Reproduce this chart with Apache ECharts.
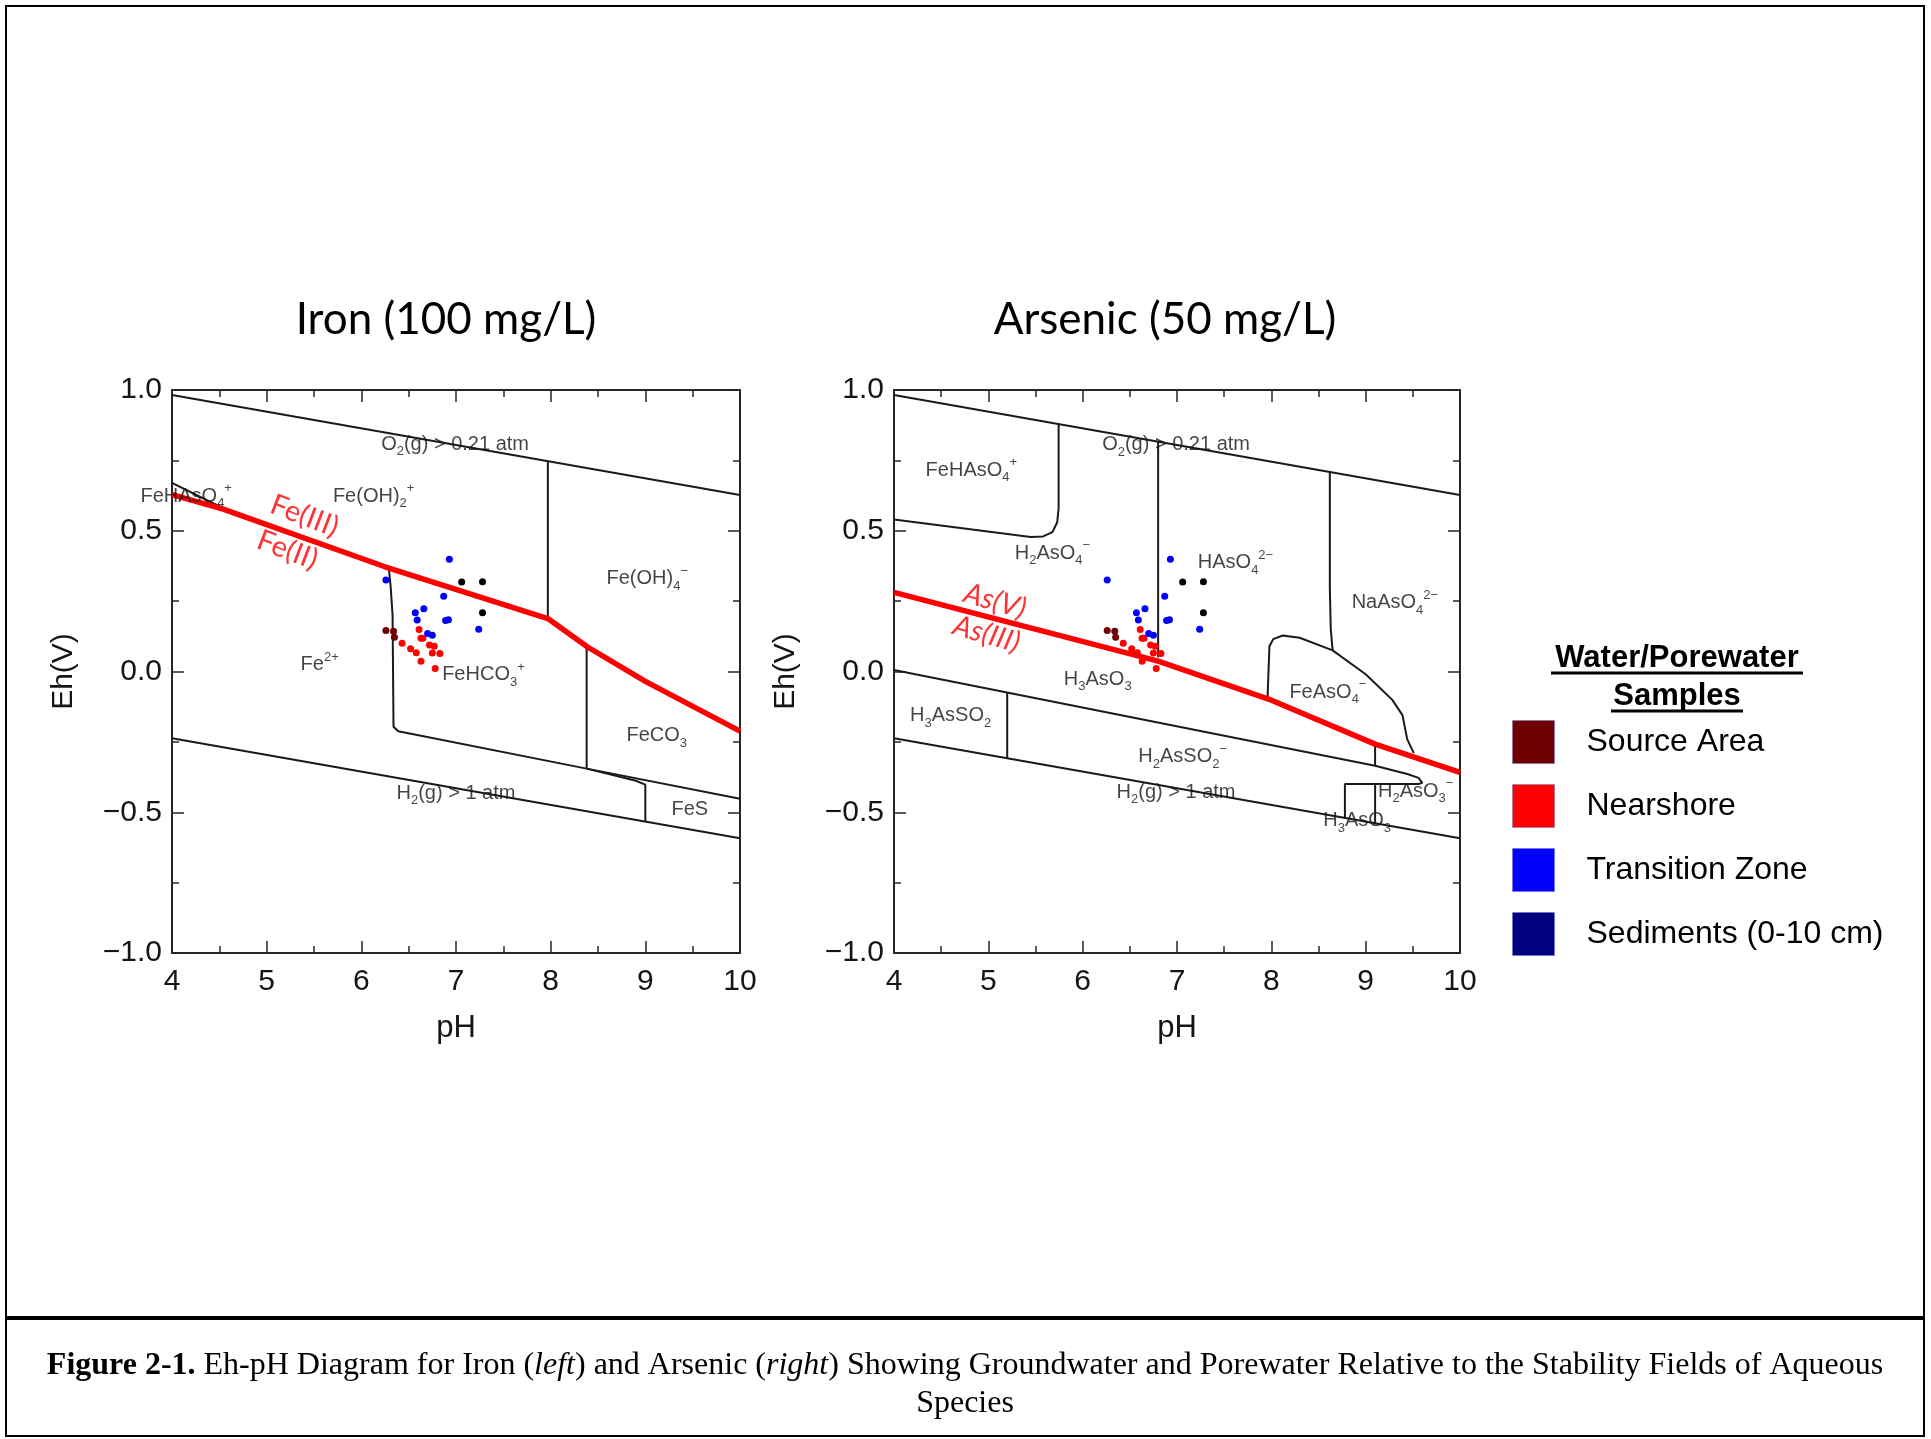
<!DOCTYPE html>
<html><head><meta charset="utf-8">
<script src="https://cdn.jsdelivr.net/npm/echarts@6/dist/echarts.min.js"></script>
<style>html,body{margin:0;padding:0;background:#fff}#c{width:1931px;height:1439px}</style>
</head><body><div id="c"></div>
<script>
// ---------- sample data (pH, Eh in V) ----------
const sourceArea = [[6.26,0.146],[6.34,0.143],[6.35,0.122]];
const nearshore = [[6.61,0.149],[6.63,0.118],[6.65,0.118],[6.43,0.100],[6.52,0.081],[6.58,0.067],[6.72,0.094],[6.77,0.090],[6.75,0.066],[6.83,0.064],[6.63,0.036],[6.78,0.011]];
const transitionZone = [[6.93,0.399],[6.26,0.325],[6.87,0.267],[6.66,0.223],[6.57,0.209],[6.59,0.183],[6.89,0.181],[6.92,0.184],[7.24,0.150],[6.70,0.135],[6.75,0.129]];
const sediments = [[7.06,0.318],[7.28,0.319],[7.28,0.209]];

// ---------- stability field boundaries (pH, Eh) ----------
const ironBoundaries = [
  [[4,0.982],[10,0.627]],
  [[4,-0.237],[10,-0.592]],
  [[4,0.67],[4.54,0.58]],
  [[7.97,0.745],[7.97,0.19]],
  [[6.29,0.37],[6.31,0.3],[6.33,0.2],[6.34,-0.196],[6.39,-0.212],[8.38,-0.345],[10,-0.452]],
  [[8.38,0.085],[8.38,-0.345]],
  [[8.38,-0.345],[8.9,-0.388],[9.0,-0.402],[9.0,-0.533]]
];
const ironRedox = [[4,0.628],[4.54,0.577],[6.25,0.372],[7.97,0.188],[8.39,0.087],[9.0,-0.035],[10,-0.212]];

const arsenicBoundaries = [
  [[4,0.982],[10,0.627]],
  [[4,-0.237],[10,-0.592]],
  [[4,0.540],[5.45,0.478],[5.58,0.480],[5.68,0.495],[5.73,0.53],[5.745,0.58],[5.745,0.878]],
  [[6.80,0.816],[6.80,0.05]],
  [[8.62,0.71],[8.62,0.3],[8.63,0.15],[8.65,0.075]],
  [[7.96,-0.095],[7.97,0.0],[7.98,0.09],[8.02,0.115],[8.12,0.128],[8.3,0.12],[8.65,0.075],[9.0,-0.01],[9.28,-0.1],[9.39,-0.155],[9.44,-0.24],[9.51,-0.29]],
  [[4,0.005],[9.1,-0.335],[9.45,-0.365],[9.56,-0.378],[9.6,-0.395],[9.56,-0.4],[8.78,-0.4],[8.78,-0.52]],
  [[5.2,-0.076],[5.2,-0.308]],
  [[9.1,-0.258],[9.1,-0.335]],
  [[9.1,-0.4],[9.1,-0.539]]
];
const arsenicRedox = [[4,0.281],[6.8,0.037],[7.97,-0.098],[9.1,-0.258],[10,-0.358]];

// ---------- field labels [pH, Eh, text] ----------
const ironLabels = [
  [6.99,0.807,'{n|O}{b|2}{n|(g) > 0.21 atm}'],
  [4.15,0.622,'{n|FeHAsO}{b|4}{p|+}'],
  [6.13,0.622,'{n|Fe(OH)}{b|2}{p|+}'],
  [9.02,0.33,'{n|Fe(OH)}{b|4}{p|\u2212}'],
  [5.56,0.025,'{n|Fe}{p|2+}'],
  [7.29,-0.012,'{n|FeHCO}{b|3}{p|+}'],
  [9.12,-0.229,'{n|FeCO}{b|3}'],
  [7.0,-0.432,'{n|H}{b|2}{n|(g) > 1 atm}'],
  [9.47,-0.49,'{n|FeS}']
];
const arsenicLabels = [
  [6.99,0.806,'{n|O}{b|2}{n|(g) > 0.21 atm}'],
  [4.82,0.715,'{n|FeHAsO}{b|4}{p|+}'],
  [5.68,0.42,'{n|H}{b|2}{n|AsO}{b|4}{p|\u2212}'],
  [7.62,0.386,'{n|HAsO}{b|4}{p|2\u2212}'],
  [9.31,0.245,'{n|NaAsO}{b|4}{p|2\u2212}'],
  [6.16,-0.027,'{n|H}{b|3}{n|AsO}{b|3}'],
  [8.6,-0.074,'{n|FeAsO}{b|4}{p|\u2212}'],
  [4.6,-0.157,'{n|H}{b|3}{n|AsSO}{b|2}'],
  [7.06,-0.303,'{n|H}{b|2}{n|AsSO}{b|2}{p|\u2212}'],
  [6.99,-0.429,'{n|H}{b|2}{n|(g) > 1 atm}'],
  [9.53,-0.425,'{n|H}{b|2}{n|AsO}{b|3}{p|\u2212}'],
  [8.91,-0.53,'{n|H}{b|3}{n|AsO}{b|3}']
];
const ironRedoxLabels = [[5.40,0.553,'Fe(III)'],[5.22,0.432,'Fe(II)']];
const arsenicRedoxLabels = [[5.07,0.25,'As(V)'],[4.98,0.133,'As(III)']];

const plotTitles = ['Iron (100 mg/L)','Arsenic (50 mg/L)'];
const legendNames = ['Source Area','Nearshore','Transition Zone','Sediments (0-10 cm)'];
const legendColors = ['#700000','#ff0000','#0000ff','#000080'];
const dotColors = ['#700000','#ff0000','#0000ff','#000000'];
const sampleSets = [sourceArea, nearshore, transitionZone, sediments];

// ---------- chart ----------
const FONT = '"Liberation Sans", Arial, Helvetica, sans-serif';
const AX = '#262626';
const TXT = '#151515';

function xAx(g, pos){
  const main = pos === 'bottom';
  return {
    type:'value', gridIndex:g, position:pos, min:4, max:10, interval:1,
    axisLine:{show:true, onZero:false, lineStyle:{color:AX, width:2}},
    axisTick:{show:true, inside:true, length:12, lineStyle:{color:AX, width:1.5}},
    minorTick:{show:true, splitNumber:2, length:7, lineStyle:{color:AX, width:1.5}},
    splitLine:{show:false}, minorSplitLine:{show:false},
    axisLabel:{show:main, margin:14, fontSize:30, fontFamily:FONT, color:TXT},
    name: main ? 'pH' : '', nameLocation:'middle', nameGap:60,
    nameTextStyle:{fontSize:31, fontFamily:FONT, color:TXT}
  };
}
function yAx(g, pos){
  const main = pos === 'left';
  return {
    type:'value', gridIndex:g, position:pos, min:-1, max:1, interval:0.5,
    axisLine:{show:true, onZero:false, lineStyle:{color:AX, width:2}},
    axisTick:{show:true, inside:true, length:12, lineStyle:{color:AX, width:1.5}},
    minorTick:{show:true, splitNumber:2, length:7, lineStyle:{color:AX, width:1.5}},
    splitLine:{show:false}, minorSplitLine:{show:false},
    axisLabel:{show:main, margin:10, fontSize:30, fontFamily:FONT, color:TXT,
      formatter: v => (v < 0 ? '\u2212' : '') + Math.abs(v).toFixed(1)},
    name: main ? 'Eh(V)' : '', nameLocation:'middle', nameGap:93,
    nameTextStyle:{fontSize:30, fontFamily:FONT, color:TXT}
  };
}

const rich = {
  n:{fontSize:20, fontFamily:FONT, color:TXT, lineHeight:28, verticalAlign:'middle'},
  b:{fontSize:13, fontFamily:FONT, color:TXT, lineHeight:13, verticalAlign:'bottom'},
  p:{fontSize:13, fontFamily:FONT, color:TXT, lineHeight:13, verticalAlign:'top'}
};

const series = [];
function addPlot(g, boundaries, redox, labels, redLabels, italic){
  const ax = g * 2;
  boundaries.forEach(b => series.push({
    type:'line', xAxisIndex:ax, yAxisIndex:ax, data:b, symbol:'none', silent:true,
    lineStyle:{color:'#1a1a1a', width:2}, z:2, animation:false
  }));
  series.push({
    type:'line', xAxisIndex:ax, yAxisIndex:ax, data:redox, symbol:'none', silent:true,
    lineStyle:{color:'#ff0000', width:5.5}, z:3, animation:false
  });
  series.push({
    type:'scatter', xAxisIndex:ax, yAxisIndex:ax, symbolSize:0, silent:true, z:6, animation:false,
    data: labels.map(d => ({value:[d[0], d[1]], name:d[2]})),
    label:{show:true, position:'inside', formatter:p => p.name, rich, color:TXT, fontFamily:FONT, fontSize:20}
  });
  redLabels.forEach(d => series.push({
    type:'scatter', xAxisIndex:ax, yAxisIndex:ax, symbolSize:0, silent:true, z:6, animation:false,
    data:[{value:[d[0], d[1]], name:d[2]}],
    label:{show:true, position:'inside', formatter:p => p.name, rotate: italic ? -16 : -21,
      color:'#ff0000', fontFamily:'Lato, "Open Sans", sans-serif', fontSize:29,
      fontStyle: italic ? 'italic' : 'normal'}
  }));
  sampleSets.forEach((s, i) => series.push({
    type:'scatter', name:legendNames[i], xAxisIndex:ax, yAxisIndex:ax, data:s,
    symbol:'circle', symbolSize:7, itemStyle:{color:dotColors[i], opacity:1}, z:5, animation:false, silent:true
  }));
}
addPlot(0, ironBoundaries, ironRedox, ironLabels, ironRedoxLabels, false);
addPlot(1, arsenicBoundaries, arsenicRedox, arsenicLabels, arsenicRedoxLabels, true);

const titleFont = {fontFamily:'Lato, "Open Sans", sans-serif', fontSize:44, fontWeight:'normal', color:'#000'};
const LF = '"Liberation Sans", Arial, sans-serif';
const SERIF = '"Liberation Serif", "Times New Roman", serif';

const option = {
  backgroundColor:'#fff',
  animation:false,
  title:[
    {text:plotTitles[0], left:446, top:298, textAlign:'center', padding:0, textStyle:titleFont},
    {text:plotTitles[1], left:1165, top:298, textAlign:'center', padding:0, textStyle:titleFont}
  ],
  grid:[
    {left:172, top:390, width:568, height:563, containLabel:false},
    {left:894, top:390, width:566, height:563, containLabel:false}
  ],
  xAxis:[xAx(0,'bottom'), xAx(0,'top'), xAx(1,'bottom'), xAx(1,'top')],
  yAxis:[yAx(0,'left'), yAx(0,'right'), yAx(1,'left'), yAx(1,'right')],
  legend:{
    orient:'vertical', left:1512, top:720, padding:0, itemGap:20, itemWidth:42, itemHeight:43,
    icon:'rect', selectedMode:false,
    data: legendNames.map((n, i) => ({name:n, itemStyle:{color:legendColors[i], opacity:1, borderColor:'rgba(110,110,210,0.45)', borderWidth:1}})),
    textStyle:{fontSize:32, fontFamily:LF, color:'#000', padding:[4,0,0,27]}
  },
  series,
  graphic:[
    {type:'rect', shape:{x:6, y:6, width:1918, height:1430}, style:{fill:null, stroke:'#000', lineWidth:2}, silent:true},
    {type:'line', shape:{x1:6, y1:1318, x2:1924, y2:1318}, style:{stroke:'#000', lineWidth:4}, silent:true},
    {type:'text', x:1677, y:658, silent:true, style:{text:'Water/Porewater', fontSize:31, fontWeight:'bold', fontFamily:LF, fill:'#000', align:'center', verticalAlign:'middle'}},
    {type:'text', x:1677, y:696, silent:true, style:{text:'Samples', fontSize:31, fontWeight:'bold', fontFamily:LF, fill:'#000', align:'center', verticalAlign:'middle'}},
    {type:'line', shape:{x1:1551, y1:673, x2:1803, y2:673}, style:{stroke:'#000', lineWidth:3}, silent:true},
    {type:'line', shape:{x1:1611, y1:711, x2:1743, y2:711}, style:{stroke:'#000', lineWidth:3}, silent:true},
    {type:'text', x:965, y:1366, silent:true, style:{
      text:'{b|Figure 2-1.} Eh-pH Diagram for Iron ({i|left}) and Arsenic ({i|right}) Showing Groundwater and Porewater Relative to the Stability Fields of Aqueous',
      fontSize:32, fontFamily:SERIF, fill:'#000', align:'center', verticalAlign:'middle',
      rich:{
        b:{fontSize:32, fontWeight:'bold', fontFamily:SERIF, fill:'#000'},
        i:{fontSize:32, fontStyle:'italic', fontFamily:SERIF, fill:'#000'}
      }}},
    {type:'text', x:965, y:1404, silent:true, style:{text:'Species', fontSize:32, fontFamily:SERIF, fill:'#000', align:'center', verticalAlign:'middle'}}
  ]
};

const chart = echarts.init(document.getElementById('c'), null, {renderer:'canvas', width:1931, height:1439});
chart.setOption(option);
</script>
</body></html>
